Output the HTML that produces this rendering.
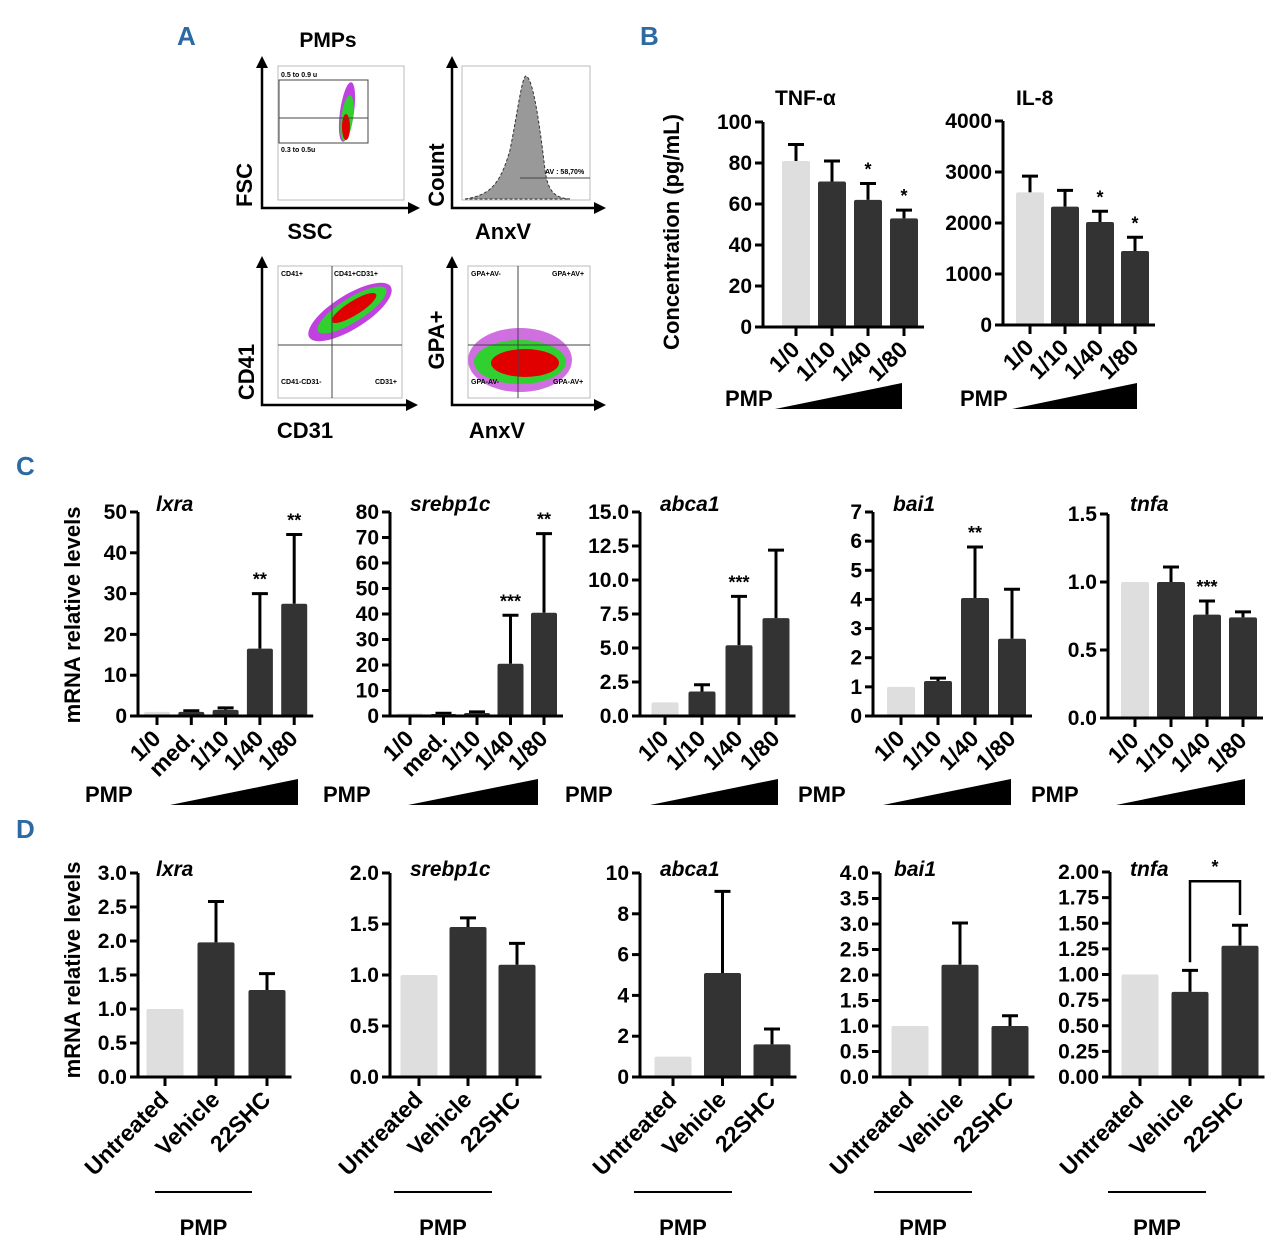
<!DOCTYPE html>
<html><head><meta charset="utf-8"><style>
body{margin:0;background:#fff}
svg{display:block}
text{font-family:"Liberation Sans",sans-serif;font-weight:bold;fill:#000}
.pl{font-family:"Liberation Sans Narrow","Liberation Sans",sans-serif;fill:#2d6aa3;font-size:26px}
</style></head><body>
<svg id="fig" width="1280" height="1251" viewBox="0 0 1280 1251" xmlns="http://www.w3.org/2000/svg">
<text class="pl" x="177" y="45">A</text>
<text class="pl" x="640" y="45">B</text>
<text class="pl" x="16" y="475">C</text>
<text class="pl" x="16" y="838">D</text>
<text x="328" y="47" font-size="21" text-anchor="middle">PMPs</text>
<g id="flow">
 <g>
  <rect x="278" y="66" width="126" height="134" fill="none" stroke="#bbb"/>
  <ellipse cx="347" cy="112" rx="7" ry="30" fill="#c040e0" transform="rotate(8 347 112)"/>
  <ellipse cx="347" cy="118" rx="6" ry="23" fill="#30d030" transform="rotate(8 347 118)"/>
  <ellipse cx="346" cy="127" rx="4" ry="13" fill="#e00000"/>
  <rect x="279" y="80" width="89" height="63" fill="none" stroke="#444"/>
  <line x1="279" y1="118" x2="368" y2="118" stroke="#444"/>
  <text x="281" y="77" font-size="7" font-weight="normal">0.5 to 0.9 u</text>
  <text x="281" y="152" font-size="7" font-weight="normal">0.3 to 0.5u</text>
  <path d="M262 66 V208 H410" fill="none" stroke="#000" stroke-width="2.5"/>
  <polygon points="262,56 256,68 268,68" fill="#000"/><polygon points="420,208 408,202 408,214" fill="#000"/>
  <text x="252" y="185" font-size="22" transform="rotate(-90 252 185)" text-anchor="middle">FSC</text>
  <text x="310" y="239" font-size="22" text-anchor="middle">SSC</text>
 </g>
 <g>
  <rect x="462" y="66" width="128" height="134" fill="none" stroke="#bbb"/>
  <path d="M465 199 C490 195 500 185 510 150 C518 110 522 76 526 76 C532 78 538 110 545 170 C548 192 555 198 570 199 Z" fill="#999" stroke="#333" stroke-dasharray="3 2"/>
  <line x1="520" y1="178" x2="590" y2="178" stroke="#444"/>
  <text x="545" y="174" font-size="7" font-weight="normal">AV : 58,70%</text>
  <path d="M452 66 V208 H596" fill="none" stroke="#000" stroke-width="2.5"/>
  <polygon points="452,56 446,68 458,68" fill="#000"/><polygon points="606,208 594,202 594,214" fill="#000"/>
  <text x="444" y="175" font-size="22" transform="rotate(-90 444 175)" text-anchor="middle">Count</text>
  <text x="503" y="239" font-size="22" text-anchor="middle">AnxV</text>
 </g>
 <g>
  <rect x="278" y="266" width="124" height="132" fill="none" stroke="#bbb"/>
  <ellipse cx="350" cy="312" rx="48" ry="17" fill="#c040e0" transform="rotate(-32 350 312)"/>
  <ellipse cx="352" cy="310" rx="40" ry="12" fill="#30d030" transform="rotate(-32 352 310)"/>
  <ellipse cx="354" cy="308" rx="26" ry="7" fill="#e00000" transform="rotate(-32 354 308)"/>
  <line x1="332" y1="266" x2="332" y2="398" stroke="#444"/><line x1="278" y1="345" x2="402" y2="345" stroke="#444"/>
  <text x="281" y="276" font-size="7" font-weight="normal">CD41+</text><text x="334" y="276" font-size="7" font-weight="normal">CD41+CD31+</text>
  <text x="281" y="384" font-size="7" font-weight="normal">CD41-CD31-</text><text x="375" y="384" font-size="7" font-weight="normal">CD31+</text>
  <path d="M262 266 V405 H408" fill="none" stroke="#000" stroke-width="2.5"/>
  <polygon points="262,256 256,268 268,268" fill="#000"/><polygon points="418,405 406,399 406,411" fill="#000"/>
  <text x="254" y="372" font-size="22" transform="rotate(-90 254 372)" text-anchor="middle">CD41</text>
  <text x="305" y="438" font-size="22" text-anchor="middle">CD31</text>
 </g>
 <g>
  <rect x="468" y="266" width="122" height="132" fill="none" stroke="#bbb"/>
  <ellipse cx="520" cy="360" rx="52" ry="32" fill="#d070e0"/>
  <ellipse cx="520" cy="362" rx="46" ry="22" fill="#30d030"/>
  <ellipse cx="525" cy="363" rx="34" ry="14" fill="#e00000"/>
  <line x1="518" y1="266" x2="518" y2="398" stroke="#444"/><line x1="468" y1="345" x2="590" y2="345" stroke="#444"/>
  <text x="471" y="276" font-size="7" font-weight="normal">GPA+AV-</text><text x="552" y="276" font-size="7" font-weight="normal">GPA+AV+</text>
  <text x="471" y="384" font-size="7" font-weight="normal">GPA-AV-</text><text x="553" y="384" font-size="7" font-weight="normal">GPA-AV+</text>
  <path d="M452 266 V405 H596" fill="none" stroke="#000" stroke-width="2.5"/>
  <polygon points="452,256 446,268 458,268" fill="#000"/><polygon points="606,405 594,399 594,411" fill="#000"/>
  <text x="444" y="340" font-size="22" transform="rotate(-90 444 340)" text-anchor="middle">GPA+</text>
  <text x="497" y="438" font-size="22" text-anchor="middle">AnxV</text>
 </g>
</g>
<text x="679" y="232" font-size="22" transform="rotate(-90 679 232)" text-anchor="middle">Concentration (pg/mL)</text>
<text x="80" y="615" font-size="22" transform="rotate(-90 80 615)" text-anchor="middle">mRNA relative levels</text>
<text x="80" y="970" font-size="22" transform="rotate(-90 80 970)" text-anchor="middle">mRNA relative levels</text>
<g id="charts"></g>
</svg>
<script>
// ---- data ----
const catsB = ["1/0","1/10","1/40","1/80"];
const catsC5 = ["1/0","med.","1/10","1/40","1/80"];
const catsD = ["Untreated","Vehicle","22SHC"];
const tnfVals = [81,71,62,53];
const tnfErr = [8,10,8,4];
const tnfStars = ["","","*","*"];
const il8Vals = [2600,2320,2020,1450];
const il8Err = [320,320,210,270];
const il8Stars = ["","","*","*"];
const cLxraVals = [1,1,1.5,16.5,27.5];
const cLxraErr = [0,0.3,0.5,13.5,17];
const cLxraStars = ["","","","**","**"];
const cSrebVals = [1,0.8,1.2,20.5,40.5];
const cSrebErr = [0,0.3,0.4,19,31];
const cSrebStars = ["","","","***","**"];
const cAbcaVals = [1,1.8,5.2,7.2];
const cAbcaErr = [0,0.5,3.6,5];
const cAbcaStars = ["","","***",""];
const cBaiVals = [1,1.2,4.05,2.65];
const cBaiErr = [0,0.1,1.75,1.7];
const cBaiStars = ["","","**",""];
const cTnfaVals = [1,1,0.76,0.74];
const cTnfaErr = [0,0.11,0.1,0.04];
const cTnfaStars = ["","","***",""];
const dLxraVals = [1,1.98,1.28];
const dLxraErr = [0,0.6,0.24];
const dSrebVals = [1,1.47,1.1];
const dSrebErr = [0,0.09,0.21];
const dAbcaVals = [1,5.1,1.6];
const dAbcaErr = [0,4,0.75];
const dBaiVals = [1,2.2,1.0];
const dBaiErr = [0,0.82,0.2];
const dTnfaVals = [1,0.83,1.28];
const dTnfaErr = [0,0.21,0.2];
const ticksTnf = ["0","20","40","60","80","100"];
const ticksIl8 = ["0","1000","2000","3000","4000"];
const ticksLxra = ["0","10","20","30","40","50"];
const ticksSreb = ["0","10","20","30","40","50","60","70","80"];
const ticksAbca = ["0.0","2.5","5.0","7.5","10.0","12.5","15.0"];
const ticksBai = ["0","1","2","3","4","5","6","7"];
const ticksTnfa = ["0.0","0.5","1.0","1.5"];
const ticksDLxra = ["0.0","0.5","1.0","1.5","2.0","2.5","3.0"];
const ticksDSreb = ["0.0","0.5","1.0","1.5","2.0"];
const ticksDAbca = ["0","2","4","6","8","10"];
const ticksDBai = ["0.0","0.5","1.0","1.5","2.0","2.5","3.0","3.5","4.0"];
const ticksDTnfa = ["0.00","0.25","0.50","0.75","1.00","1.25","1.50","1.75","2.00"];

const NS="http://www.w3.org/2000/svg";
const root=document.getElementById('charts');
function mk(tag,attrs,parent){const e=document.createElementNS(NS,tag);for(const k in attrs)e.setAttribute(k,attrs[k]);parent.appendChild(e);return e;}

function chart(o){
  const g=mk('g',{},root);
  
  
  const ticks=o.ticks, max=parseFloat(ticks[ticks.length-1]);
  const y=v=>o.y0-(v/max)*(o.y0-o.y1);
  const cx=i=>o.ax+o.off+i*o.step;
  const n=o.vals.length;
  o.vals.forEach((v,i)=>{
    const top=y(v+o.errs[i]);
    if(o.errs[i]>0){
      const el=mk('path',{d:`M${cx(i)} ${y(v)} V${top} M${cx(i)-8} ${top} H${cx(i)+8}`,stroke:'#000','stroke-width':3,fill:'none'},g);
      
      
    }
    const b=mk('rect',{x:cx(i)-o.bw/2,y:y(v),width:o.bw,height:o.y0-y(v),fill:i===0?'#dedede':'#333',rx:2},g);
    
    
    if(o.stars&&o.stars[i]){
      const s=mk('text',{x:cx(i),y:top-8,'font-size':18,'text-anchor':'middle'},g);
      s.textContent=o.stars[i];
      
      
    }
  });
  const xend=cx(n-1)+o.bw/2+6;
  mk('path',{d:`M${o.ax} ${o.y1} V${o.y0} H${xend}`,stroke:'#000','stroke-width':3,fill:'none'},g);
  ticks.forEach(t=>{
    const yy=y(parseFloat(t));
    mk('line',{x1:o.ax-8,x2:o.ax,y1:yy,y2:yy,stroke:'#000','stroke-width':3},g);
    const tl=mk('text',{x:o.ax-11,y:yy+7,'font-size':21,'text-anchor':'end'},g);
    tl.textContent=t;
    
    
  });
  o.cats.forEach((c,i)=>{
    mk('line',{x1:cx(i),x2:cx(i),y1:o.y0,y2:o.y0+9,stroke:'#000','stroke-width':3},g);
    const lx=cx(i)+5, ly=o.y0+24;
    const t=mk('text',{x:lx,y:ly,'font-size':23,'text-anchor':'end',transform:`rotate(-45 ${lx} ${ly})`},g);
    t.textContent=c;
    
    
  });
  const tt=mk('text',{x:o.tx,y:o.ty,'font-size':21,'font-style':o.italic?'italic':'normal'},g);
  tt.textContent=o.title;
  
  
  if(o.wedge){
    const w=o.wedge;
    mk('polygon',{points:`${w[0]},${w[2]} ${w[1]},${w[2]} ${w[1]},${w[2]-26}`,fill:'#000'},g);
    const p=mk('text',{x:w[0]-(o.pmpOff||85),y:w[2]-3,'font-size':22},g);
    p.textContent='PMP';
    
    
  }
  if(o.pmpLine){
    mk('line',{x1:o.pmpLine[0],x2:o.pmpLine[1],y1:1192,y2:1192,stroke:'#000','stroke-width':2},g);
    const p=mk('text',{x:(o.pmpLine[0]+o.pmpLine[1])/2,y:1235,'font-size':22,'text-anchor':'middle'},g);
    p.textContent='PMP';
    
    
  }
  return {g,y,cx};
}
chart({name:'tnf-alpha-chart',cats:catsB,vals:tnfVals,errs:tnfErr,stars:tnfStars,ticks:ticksTnf,ax:763,y0:327,y1:122,off:33,step:36,bw:28,title:'TNF-α',tx:775,ty:105,wedge:[775,902,409],pmpOff:50});
chart({name:'il8-chart',cats:catsB,vals:il8Vals,errs:il8Err,stars:il8Stars,ticks:ticksIl8,ax:1003,y0:325,y1:121,off:27,step:35,bw:28,title:'IL-8',tx:1016,ty:105,wedge:[1012,1137,409],pmpOff:52});
chart({name:'c-lxra-chart',cats:catsC5,vals:cLxraVals,errs:cLxraErr,stars:cLxraStars,ticks:ticksLxra,ax:138,y0:716,y1:512,off:19,step:34.3,bw:26,title:'lxra',italic:1,tx:156,ty:511,wedge:[170,298,805]});
chart({name:'c-srebp1c-chart',cats:catsC5,vals:cSrebVals,errs:cSrebErr,stars:cSrebStars,ticks:ticksSreb,ax:390,y0:716,y1:512,off:20,step:33.5,bw:26,title:'srebp1c',italic:1,tx:410,ty:511,wedge:[408,538,805]});
chart({name:'c-abca1-chart',cats:catsB,vals:cAbcaVals,errs:cAbcaErr,stars:cAbcaStars,ticks:ticksAbca,ax:640,y0:716,y1:512,off:25,step:37,bw:27,title:'abca1',italic:1,tx:660,ty:511,wedge:[650,778,805]});
chart({name:'c-bai1-chart',cats:catsB,vals:cBaiVals,errs:cBaiErr,stars:cBaiStars,ticks:ticksBai,ax:873,y0:716,y1:512,off:28,step:37,bw:28,title:'bai1',italic:1,tx:893,ty:511,wedge:[883,1011,805]});
chart({name:'c-tnfa-chart',cats:catsB,vals:cTnfaVals,errs:cTnfaErr,stars:cTnfaStars,ticks:ticksTnfa,ax:1108,y0:718,y1:514,off:27,step:36,bw:28,title:'tnfa',italic:1,tx:1130,ty:511,wedge:[1116,1245,805]});
chart({name:'d-lxra-chart',cats:catsD,vals:dLxraVals,errs:dLxraErr,ticks:ticksDLxra,ax:138,y0:1077,y1:873,off:27,step:51,bw:37,title:'lxra',italic:1,tx:156,ty:876,pmpLine:[155,252]});
chart({name:'d-srebp1c-chart',cats:catsD,vals:dSrebVals,errs:dSrebErr,ticks:ticksDSreb,ax:390,y0:1077,y1:873,off:29,step:49,bw:37,title:'srebp1c',italic:1,tx:410,ty:876,pmpLine:[394,492]});
chart({name:'d-abca1-chart',cats:catsD,vals:dAbcaVals,errs:dAbcaErr,ticks:ticksDAbca,ax:640,y0:1077,y1:873,off:33,step:49.5,bw:37,title:'abca1',italic:1,tx:660,ty:876,pmpLine:[634,732]});
chart({name:'d-bai1-chart',cats:catsD,vals:dBaiVals,errs:dBaiErr,ticks:ticksDBai,ax:880,y0:1077,y1:873,off:30,step:50,bw:37,title:'bai1',italic:1,tx:894,ty:876,pmpLine:[874,972]});
const dt=chart({name:'d-tnfa-chart',cats:catsD,vals:dTnfaVals,errs:dTnfaErr,ticks:ticksDTnfa,ax:1110,y0:1077,y1:872,off:30,step:50,bw:37,title:'tnfa',italic:1,tx:1130,ty:876,pmpLine:[1108,1206]});
const by=dt.y(dTnfaVals[2]+dTnfaErr[2]+0.43);
const br=mk('path',{d:`M${dt.cx(1)} ${dt.y(dTnfaVals[1]+dTnfaErr[1]+0.08)} V${by} H${dt.cx(2)} V${dt.y(dTnfaVals[2]+dTnfaErr[2]+0.1)}`,stroke:'#000','stroke-width':2.5,fill:'none'},dt.g);


const st=mk('text',{x:(dt.cx(1)+dt.cx(2))/2,y:by-8,'font-size':18,'text-anchor':'middle'},dt.g);
st.textContent='*';


</script>
</body></html>
